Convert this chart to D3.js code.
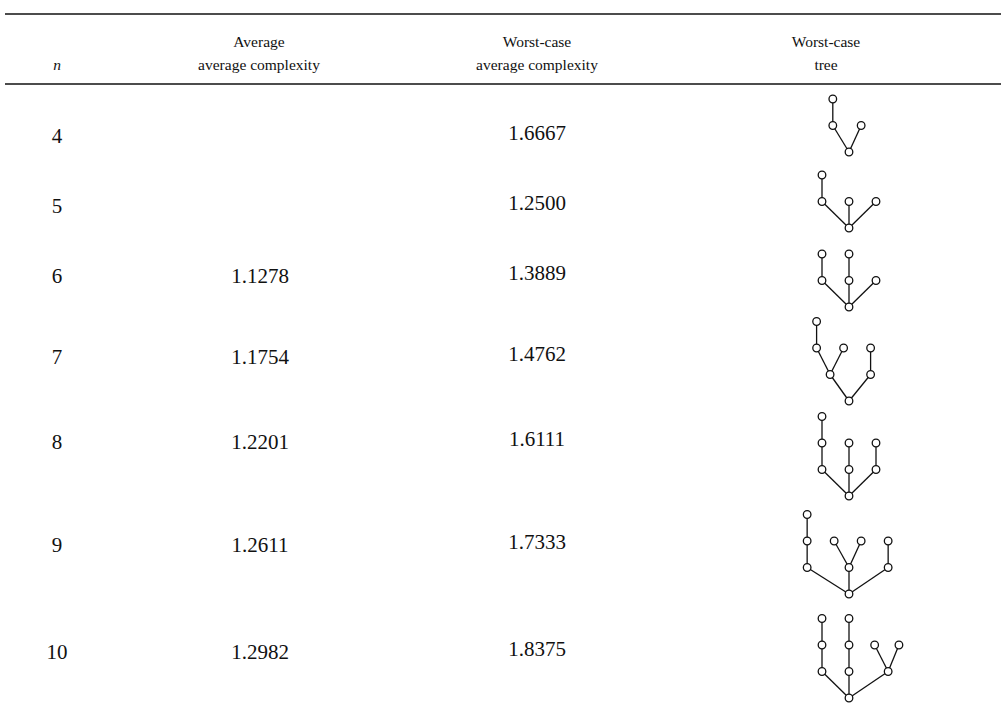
<!DOCTYPE html>
<html>
<head>
<meta charset="utf-8">
<script src="https://cdn.jsdelivr.net/npm/d3@7"></script>
<style>
  body { margin: 0; background: #fff; }
  svg { display: block; font-family: "Liberation Serif", "Times New Roman", serif; }
</style>
</head>
<body>
<script>
// table values
var ns = [4, 5, 6, 7, 8, 9, 10];
var avgAvg = [null, null, 1.1278, 1.1754, 1.2201, 1.2611, 1.2982];
var worstAvg = [1.6667, 1.2500, 1.3889, 1.4762, 1.6111, 1.7333, 1.8375];

// worst-case trees: [dx, level, parent index]  (dx in sibling units, level 0 = root)
var trees = [
  [[0,0,-1], [-0.6,1,0], [0.45,1,0], [-0.6,2,1]],
  [[0,0,-1], [-1,1,0], [0,1,0], [1,1,0], [-1,2,1]],
  [[0,0,-1], [-1,1,0], [0,1,0], [1,1,0], [-1,2,1], [0,2,2]],
  [[0,0,-1], [-0.7,1,0], [0.8,1,0], [-1.2,2,1], [-0.2,2,1], [0.8,2,2], [-1.2,3,3]],
  [[0,0,-1], [-1,1,0], [0,1,0], [1,1,0], [-1,2,1], [0,2,2], [1,2,3], [-1,3,4]],
  [[0,0,-1], [-1.55,1,0], [0,1,0], [1.45,1,0], [-1.55,2,1], [-1.55,3,4],
   [-0.55,2,2], [0.45,2,2], [1.45,2,3]],
  [[0,0,-1], [-1,1,0], [0,1,0], [1.45,1,0], [-1,2,1], [-1,3,4],
   [0,2,2], [0,3,6], [0.95,2,3], [1.85,2,3]]
];

var headers = [
  {x: 57, lines: ["", "n"], italic: true},
  {x: 259, lines: ["Average", "average complexity"]},
  {x: 537, lines: ["Worst-case", "average complexity"]},
  {x: 826, lines: ["Worst-case", "tree"]}
];

var w = 1001, h = 710;

var svg = d3.select("body").append("svg")
    .attr("width", w)
    .attr("height", h);

// row layout (uneven, follows tree heights)
var rowY = d3.scaleOrdinal()
    .domain(ns)
    .range([136, 206, 276, 357, 442, 545, 652]);
var rootY = d3.scaleOrdinal()
    .domain(ns)
    .range([152, 228, 307, 401, 496, 594, 698]);

var treeX = d3.scaleLinear().domain([0, 1]).range([849, 876]);
var levelH = 26.5;

// rules
svg.append("line")
    .attr("x1", 5).attr("x2", w).attr("y1", 14).attr("y2", 14)
    .attr("stroke", "#111").attr("stroke-width", 1.6);
svg.append("line")
    .attr("x1", 5).attr("x2", w).attr("y1", 84).attr("y2", 84)
    .attr("stroke", "#111").attr("stroke-width", 1.6);

// header
headers.forEach(function(hd) {
    hd.lines.forEach(function(t, i) {
        if (!t) return;
        svg.append("text")
            .attr("x", hd.x)
            .attr("y", 47 + i * 23)
            .attr("text-anchor", "middle")
            .attr("font-size", 15.5)
            .attr("font-style", hd.italic ? "italic" : null)
            .attr("fill", "#111")
            .text(t);
    });
});

var fmt = d3.format(".4f");

var rows = svg.selectAll(".row")
    .data(ns)
    .enter()
    .append("g")
    .attr("class", "row");

rows.append("text")
    .attr("x", 57)
    .attr("y", function(d) { return rowY(d) + 7; })
    .attr("text-anchor", "middle")
    .attr("font-size", 21)
    .attr("fill", "#111")
    .text(function(d) { return d; });

rows.append("text")
    .attr("x", 260)
    .attr("y", function(d) { return rowY(d) + 7; })
    .attr("text-anchor", "middle")
    .attr("font-size", 21)
    .attr("fill", "#111")
    .text(function(d, i) { return avgAvg[i] == null ? "" : fmt(avgAvg[i]); });

rows.append("text")
    .attr("x", 537)
    .attr("y", function(d) { return rowY(d) + 4; })
    .attr("text-anchor", "middle")
    .attr("font-size", 21)
    .attr("fill", "#111")
    .text(function(d, i) { return fmt(worstAvg[i]); });

// trees
rows.each(function(d, i) {
    var g = d3.select(this);
    var nodes = trees[i];
    var px = function(nd) { return treeX(nd[0]); };
    var py = function(nd) { return rootY(d) - nd[1] * levelH; };

    g.selectAll(".edge")
        .data(nodes.filter(function(nd) { return nd[2] >= 0; }))
        .enter()
        .append("line")
        .attr("x1", px)
        .attr("y1", py)
        .attr("x2", function(nd) { return px(nodes[nd[2]]); })
        .attr("y2", function(nd) { return py(nodes[nd[2]]); })
        .attr("stroke", "#111")
        .attr("stroke-width", 1.3);

    g.selectAll(".node")
        .data(nodes)
        .enter()
        .append("circle")
        .attr("cx", px)
        .attr("cy", py)
        .attr("r", 3.8)
        .attr("fill", "#fff")
        .attr("stroke", "#111")
        .attr("stroke-width", 1.3);
});
</script>
</body>
</html>
